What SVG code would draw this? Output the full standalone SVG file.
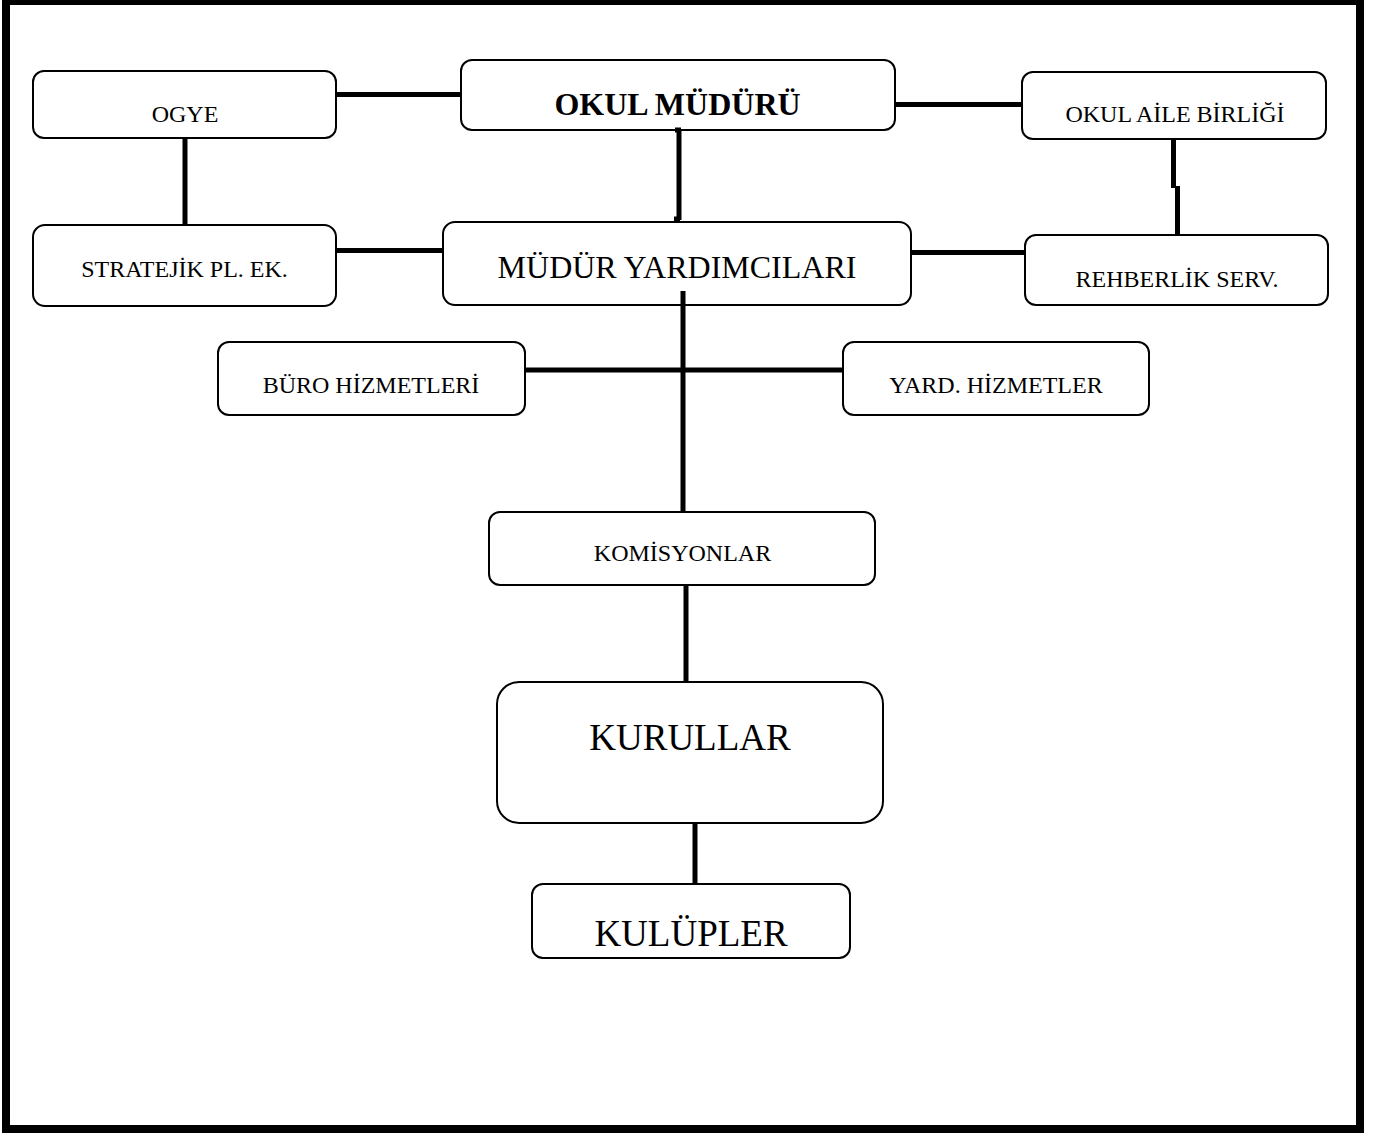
<svg xmlns="http://www.w3.org/2000/svg" width="1384" height="1133" viewBox="0 0 1384 1133">
<style>
.box{fill:#fff;stroke:#000;stroke-width:2}
.t{font-family:"Liberation Serif","Times New Roman",serif;fill:#000;text-anchor:middle}
.s{font-size:24px}
.m{font-size:32px}
.l{font-size:37px}
.c{stroke:#000;stroke-width:5;fill:none}
</style>
<rect x="0" y="0" width="1384" height="1133" fill="#fff"/>
<rect id="frame" x="6" y="1" width="1354" height="1128" fill="none" stroke="#000" stroke-width="8"/>
<g id="ogye"><rect class="box" x="33" y="71" width="303" height="67" rx="11"/><text class="t s" x="185" y="122">OGYE</text></g>
<g id="okul-muduru"><rect class="box" x="461" y="60" width="434" height="70" rx="11"/><text class="t m" x="677.5" y="115" font-weight="bold">OKUL MÜDÜRÜ</text></g>
<g id="okul-aile"><rect class="box" x="1022" y="72" width="304" height="67" rx="11"/><text class="t s" x="1175" y="122">OKUL AİLE BİRLİĞİ</text></g>
<g id="stratejik"><rect class="box" x="33" y="225" width="303" height="81" rx="12"/><text class="t s" x="184.5" y="277">STRATEJİK PL. EK.</text></g>
<g id="mudur-yard"><rect class="box" x="443" y="222" width="468" height="83" rx="12"/><text class="t m" x="677" y="278">MÜDÜR YARDIMCILARI</text></g>
<g id="rehberlik"><rect class="box" x="1025" y="235" width="303" height="70" rx="11"/><text class="t s" x="1177" y="287">REHBERLİK SERV.</text></g>
<g id="buro"><rect class="box" x="218" y="342" width="307" height="73" rx="11"/><text class="t s" x="371" y="393">BÜRO HİZMETLERİ</text></g>
<g id="yard"><rect class="box" x="843" y="342" width="306" height="73" rx="11"/><text class="t s" x="996" y="393">YARD. HİZMETLER</text></g>
<g id="komisyonlar"><rect class="box" x="489" y="512" width="386" height="73" rx="11"/><text class="t s" x="682.5" y="561" font-size="25">KOMİSYONLAR</text></g>
<g id="kurullar"><rect class="box" x="497" y="682" width="386" height="141" rx="22"/><text class="t l" x="690" y="750">KURULLAR</text></g>
<g id="kulupler"><rect class="box" x="532" y="884" width="318" height="74" rx="11"/><text class="t l" x="691" y="946">KULÜPLER</text></g>
<g id="connectors">
<path class="c" d="M337 94.5 H460"/>
<path class="c" d="M185 139 V224"/>
<path class="c" d="M337 250.5 H442"/>
<path class="c" d="M896 104.5 H1021"/>
<path class="c" d="M1173.5 140 V188 M1177.5 186 V234"/>
<path class="c" d="M912 252.5 H1024"/>
<path class="c" d="M679 130 V220"/>
<path class="c" d="M675 130 H681 M674 219 H680" stroke-width="4"/>
<path class="c" d="M683 291 V511"/>
<path class="c" d="M526 370 H842" stroke-width="5.5"/>
<path class="c" d="M686 586 V681"/>
<path class="c" d="M695 824 V883" stroke-width="6"/>
</g>
</svg>
